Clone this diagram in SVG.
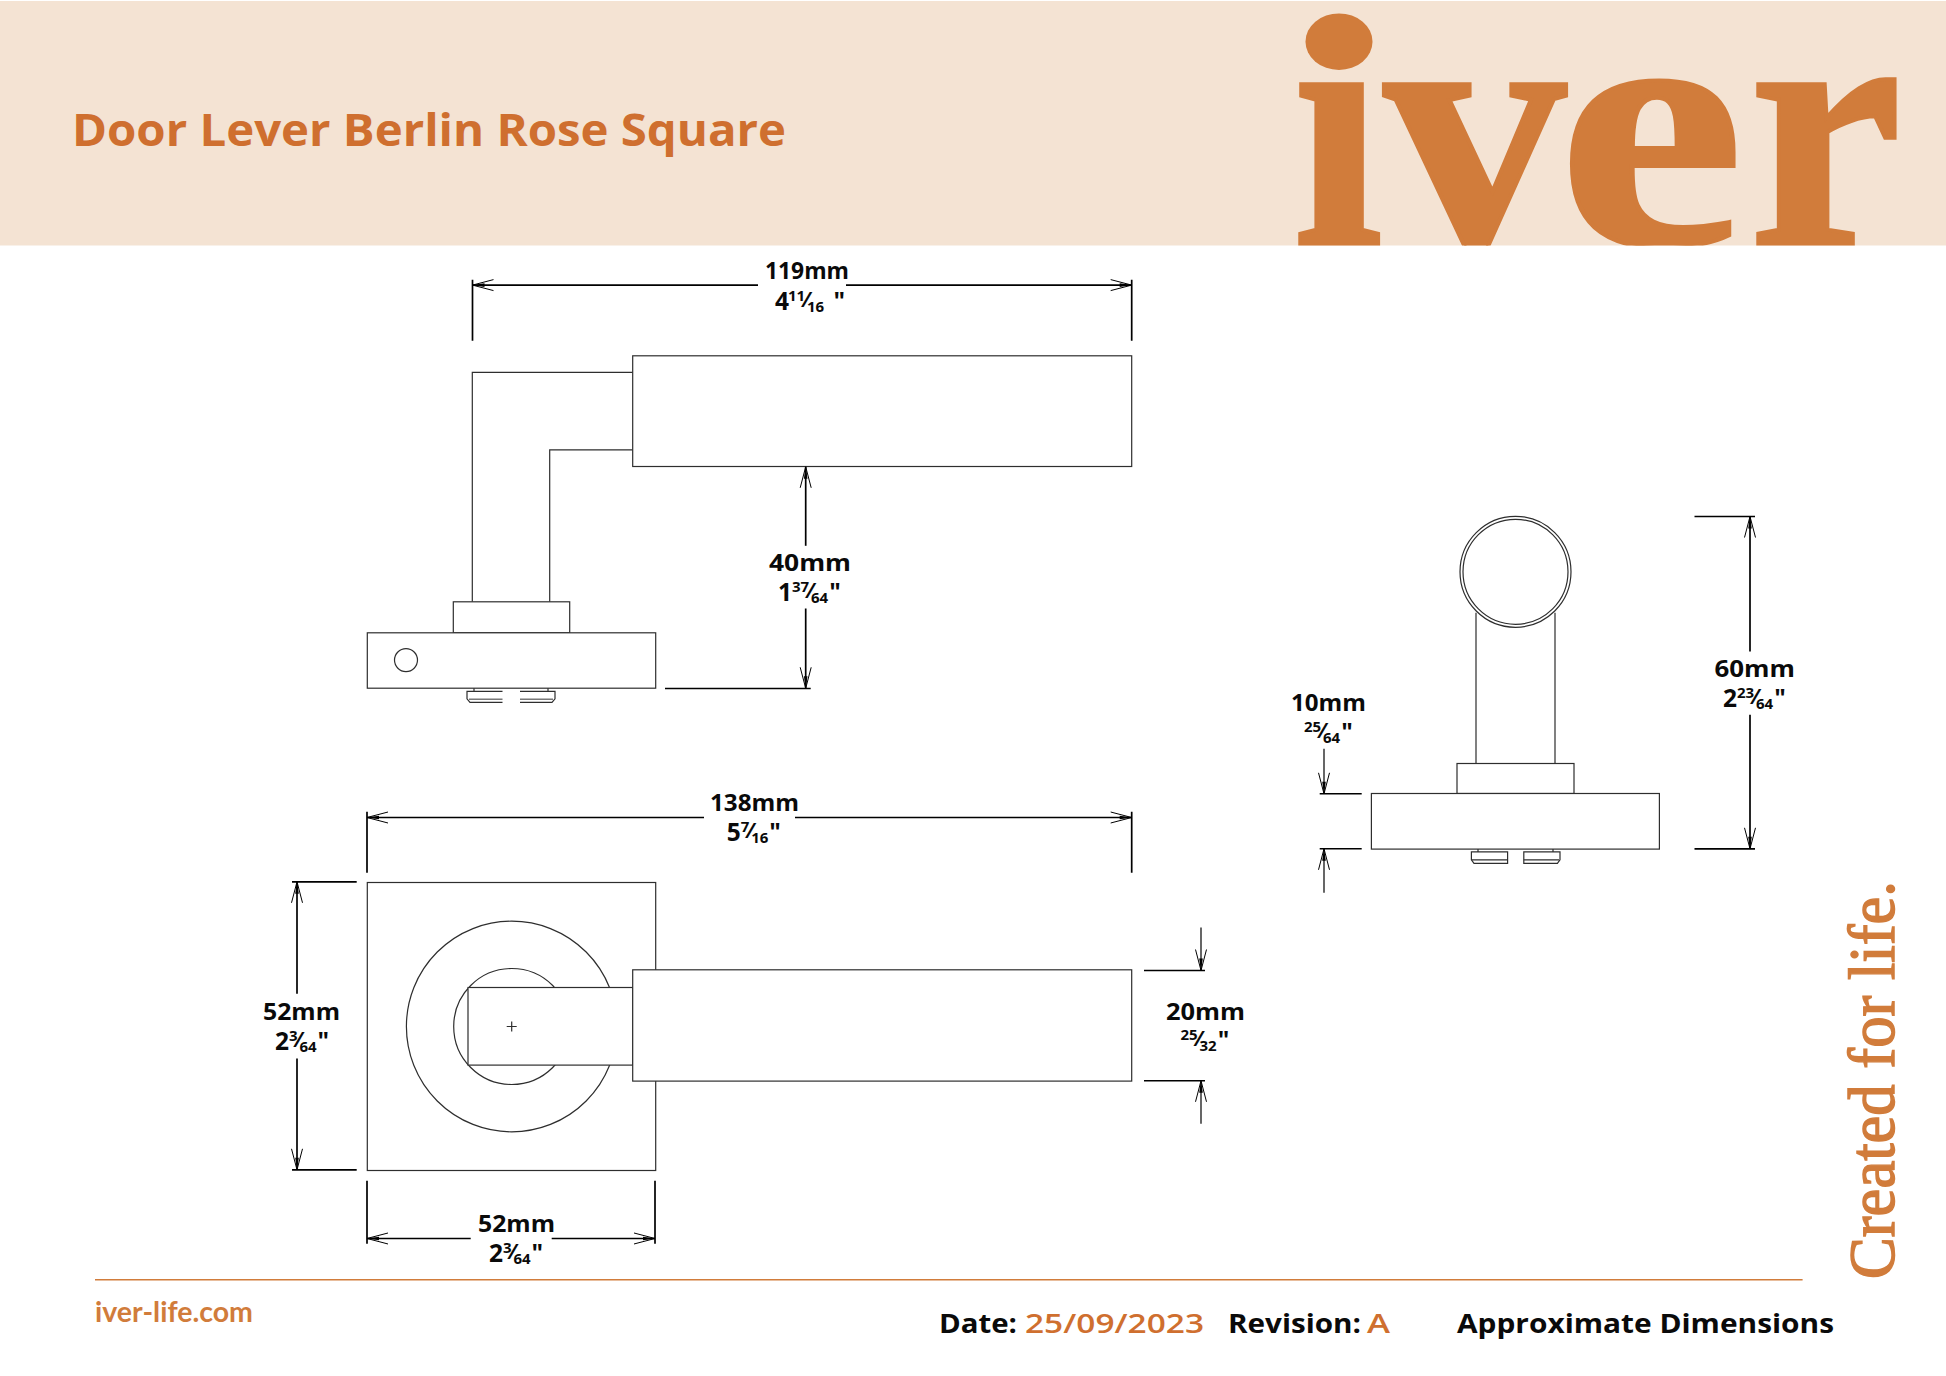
<svg xmlns="http://www.w3.org/2000/svg" width="1946" height="1376" viewBox="0 0 1946 1376">
<style>
.o{fill:#fff;stroke:#2e2e2e;stroke-width:1.2}
.n{fill:none;stroke:#2e2e2e;stroke-width:1.2}
.g{fill:none;stroke:#777;stroke-width:1.6}
.d{fill:none;stroke:#000;stroke-width:1.7}
.a{marker-end:url(#arr)}
.t{font-family:"Open Sans","Noto Sans",sans-serif;font-weight:700;fill:#0a0a0a;font-size:23.7px}
.i{font-size:24.5px}
.s{font-size:15px}
.f{font-size:22px}
.l{font-size:27.5px}
</style>
<defs>
<marker id="arr" markerUnits="userSpaceOnUse" markerWidth="24" markerHeight="14" refX="22" refY="7" orient="auto">
<path d="M1 1.5L22 7L1 12.5" fill="none" stroke="#000" stroke-width="1"/>
<path d="M10 5.2L22 7L10 8.8Z" fill="#000"/>
</marker>
<clipPath id="bn"><rect x="0" y="1" width="1946" height="244.5"/></clipPath>
</defs>
<rect width="1946" height="1376" fill="#fff"/>
<g id="header">
<rect x="0" y="1" width="1946" height="244.5" fill="#f4e3d3"/>
<text x="72" y="146" textLength="714" lengthAdjust="spacingAndGlyphs" style="font-family:'Open Sans','Noto Sans',sans-serif;font-weight:700;font-size:44px;fill:#cf6f2f">Door Lever Berlin Rose Square</text>
<g clip-path="url(#bn)">
<text id="logo" y="245" style="font-family:'Liberation Serif','DejaVu Serif',serif;font-weight:700;font-size:350px;fill:#d17c3b;stroke:#d17c3b;stroke-width:4"><tspan x="1293" textLength="90" lengthAdjust="spacingAndGlyphs">i</tspan><tspan x="1384" textLength="182" lengthAdjust="spacingAndGlyphs">v</tspan><tspan x="1558" textLength="186" lengthAdjust="spacingAndGlyphs">e</tspan><tspan x="1749" textLength="153" lengthAdjust="spacingAndGlyphs">r</tspan></text>
</g>
<rect x="1296" y="1" width="88" height="70" fill="#f4e3d3"/>
<ellipse cx="1339" cy="41.7" rx="33.5" ry="28.3" fill="#d17c3b"/>
</g>
<g transform="translate(0,0.8)">
<g id="view-side">
<path class="n" d="M472.3 601V371.5H632.7M549.7 601V449H632.7"/>
<rect class="o" x="632.7" y="355" width="499" height="110.7"/>
<rect class="o" x="453.3" y="601" width="116.4" height="31"/>
<rect class="o" x="367.3" y="632" width="288.4" height="55.4"/>
<circle class="n" cx="406" cy="659.3" r="11.5"/>
<path class="n" d="M474 687.4V690.5M548 687.4V690.5M502.5 690.5H467V698L470 701.5H502.5M520 690.5H555V698L552 701.5H520"/>
<path class="g" d="M469 698.5H502.5M520 698.5H553"/>
</g>
<g id="view-top">
<rect class="o" x="367.3" y="881.7" width="288.4" height="288"/>
<circle class="n" cx="511.7" cy="1025.7" r="105.3"/>
<circle class="n" cx="511.7" cy="1025.7" r="58"/>
<rect class="o" x="468" y="986.7" width="164.7" height="77.6"/>
<path class="n" d="M506.7 1025.7H516.7M511.7 1020.7V1030.7"/>
<rect class="o" x="632.7" y="969" width="499" height="111.3"/>
</g>
<g id="view-end">
<path class="n" d="M1476 612V762.7M1555 612V762.7"/>
<circle class="o" cx="1515.5" cy="571" r="55.5"/>
<circle class="n" cx="1515.5" cy="571" r="52.5"/>
<rect class="o" x="1457" y="762.7" width="117" height="30"/>
<rect class="o" x="1371.4" y="792.7" width="288" height="55.6"/>
<path class="n" d="M1478 848.3V851M1553 848.3V851M1507.6 851H1471.4V859L1474 862.5H1507.6ZM1523.8 851H1560V859L1557.4 862.5H1523.8Z"/>
<path class="n" d="M1472 859H1507.6M1523.8 859H1559"/>
</g>
<g id="connectors">
<path class="d" d="M472.5 279V340M1131.7 279V340M665 687.7H810.7M367 811V872M1131.7 811V872M292 881H356.7M292 1169H356.7M367 1180V1243M655 1180V1243M1694.5 515.7H1755M1694.5 848H1755"/>
<path class="n" style="stroke:#000;stroke-width:1.4" d="M1144 969.7H1205M1144 1080H1205M1319.7 793H1361.7M1319.7 848H1361.7"/>
<line class="d a" x1="758" y1="284.3" x2="472.5" y2="284.3"/>
<line class="d a" x1="846" y1="284.3" x2="1131.7" y2="284.3"/>
<line class="d a" x1="805.7" y1="545" x2="805.7" y2="466"/>
<line class="d a" x1="805.7" y1="607.7" x2="805.7" y2="687.5"/>
<line class="d a" x1="704" y1="816.7" x2="367" y2="816.7"/>
<line class="d a" x1="795" y1="816.7" x2="1131.7" y2="816.7"/>
<line class="d a" x1="297" y1="993" x2="297" y2="881"/>
<line class="d a" x1="297" y1="1057.7" x2="297" y2="1169"/>
<line class="d a" x1="470.7" y1="1237.7" x2="367" y2="1237.7"/>
<line class="d a" x1="551.7" y1="1237.7" x2="655" y2="1237.7"/>
<line class="n a" style="stroke:#000" x1="1201" y1="926.7" x2="1201" y2="969.7"/>
<line class="n a" style="stroke:#000" x1="1201" y1="1123" x2="1201" y2="1080"/>
<line class="d a" x1="1750" y1="650.7" x2="1750" y2="515.7"/>
<line class="d a" x1="1750" y1="714" x2="1750" y2="848"/>
<line class="n a" style="stroke:#000" x1="1324" y1="748" x2="1324" y2="793"/>
<line class="n a" style="stroke:#000" x1="1324" y1="892" x2="1324" y2="848"/>
</g>
<g id="labels">
<text class="t" x="765" y="278" textLength="84" lengthAdjust="spacingAndGlyphs">119mm</text>
<text class="t i" x="775" y="309">4<tspan class="s" dy="-9" dx="-1">11</tspan><tspan class="f" dy="6" dx="0">⁄</tspan><tspan class="s" dy="5" dx="-1">16</tspan><tspan class="i" dy="-2" dx="3"> "</tspan></text>
<text class="t" x="769" y="570" textLength="82" lengthAdjust="spacingAndGlyphs">40mm</text>
<text class="t i" x="778" y="600">1<tspan class="s" dy="-9">37</tspan><tspan class="f" dy="6" dx="0">⁄</tspan><tspan class="s" dy="5" dx="-1">64</tspan><tspan class="i" dy="-2" dx="1">"</tspan></text>
<text class="t" x="710" y="810.7" textLength="89" lengthAdjust="spacingAndGlyphs">138mm</text>
<text class="t i" x="726.7" y="840.7">5<tspan class="s" dy="-9">7</tspan><tspan class="f" dy="6" dx="0">⁄</tspan><tspan class="s" dy="5" dx="-1">16</tspan><tspan class="i" dy="-2" dx="1">"</tspan></text>
<text class="t" x="263" y="1019" textLength="77" lengthAdjust="spacingAndGlyphs">52mm</text>
<text class="t i" x="275" y="1049">2<tspan class="s" dy="-9">3</tspan><tspan class="f" dy="6" dx="0">⁄</tspan><tspan class="s" dy="5" dx="-1">64</tspan><tspan class="i" dy="-2" dx="1">"</tspan></text>
<text class="t" x="478" y="1231" textLength="77" lengthAdjust="spacingAndGlyphs">52mm</text>
<text class="t i" x="489" y="1261.7">2<tspan class="s" dy="-9">3</tspan><tspan class="f" dy="6" dx="0">⁄</tspan><tspan class="s" dy="5" dx="-1">64</tspan><tspan class="i" dy="-2" dx="1">"</tspan></text>
<text class="t" x="1166" y="1019" textLength="79" lengthAdjust="spacingAndGlyphs">20mm</text>
<text class="t i" x="1180.5" y="1048"><tspan class="s" dy="-9">25</tspan><tspan class="f" dy="6" dx="0">⁄</tspan><tspan class="s" dy="5" dx="-1">32</tspan><tspan class="i" dy="-2" dx="1">"</tspan></text>
<text class="t" x="1714.5" y="676.7" textLength="80.5" lengthAdjust="spacingAndGlyphs">60mm</text>
<text class="t i" x="1723" y="706.7">2<tspan class="s" dy="-9">23</tspan><tspan class="f" dy="6" dx="0">⁄</tspan><tspan class="s" dy="5" dx="-1">64</tspan><tspan class="i" dy="-2" dx="1">"</tspan></text>
<text class="t" x="1291" y="710.7" textLength="75" lengthAdjust="spacingAndGlyphs">10mm</text>
<text class="t i" x="1304" y="740.7"><tspan class="s" dy="-9">25</tspan><tspan class="f" dy="6" dx="0">⁄</tspan><tspan class="s" dy="5" dx="-1">64</tspan><tspan class="i" dy="-2" dx="1">"</tspan></text>
</g>
</g>
<g id="footer">
<line x1="95" y1="1279.7" x2="1802.6" y2="1279.7" stroke="#d17c3b" stroke-width="1.6"/>
<text x="95" y="1321.5" textLength="158" lengthAdjust="spacingAndGlyphs" style="font-family:Lato,'Noto Sans',sans-serif;font-weight:700;font-size:28px;fill:#d17c3b">iver-life.com</text>
<text class="t l" x="939" y="1332.5" textLength="78" lengthAdjust="spacingAndGlyphs">Date:</text>
<text class="t l" x="1025" y="1332.5" textLength="179" lengthAdjust="spacingAndGlyphs" style="fill:#cf6f2f;font-weight:600">25/09/2023</text>
<text class="t l" x="1228" y="1332.5" textLength="133" lengthAdjust="spacingAndGlyphs">Revision:</text>
<text class="t l" x="1367" y="1332.5" textLength="23" lengthAdjust="spacingAndGlyphs" style="fill:#cf6f2f;font-weight:600">A</text>
<text class="t l" x="1457" y="1332.5" textLength="377" lengthAdjust="spacingAndGlyphs">Approximate Dimensions</text>
<text transform="translate(1894,1279) rotate(-90)" textLength="398" lengthAdjust="spacingAndGlyphs" style="font-family:'Liberation Serif',serif;font-size:65px;fill:#d17c3b;stroke:#d17c3b;stroke-width:1.5">Created for life.</text>
</g>
</svg>
